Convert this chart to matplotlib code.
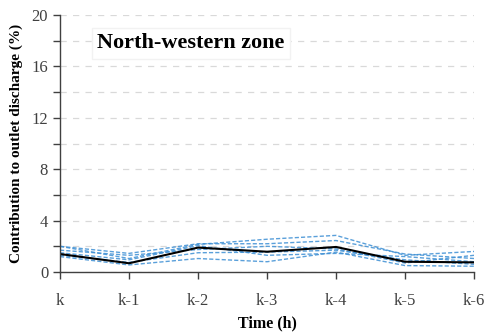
import matplotlib.pyplot as plt
import numpy as np
from matplotlib.ticker import MultipleLocator

# 时间步
steps = ['k', 'k-1', 'k-2', 'k-3', 'k-4', 'k-5', 'k-6']

# 各个子流域的贡献 (蓝色虚线)
sub_a = [2.0, 1.05, 2.15, 2.55, 2.85, 1.3, 1.6]
sub_b = [2.0, 1.45, 2.2, 2.2, 2.45, 1.4, 1.05]
sub_c = [1.2, 0.55, 1.05, 0.8, 1.55, 0.5, 0.45]
sub_d = [1.3, 0.75, 1.5, 1.55, 1.7, 0.95, 0.6]
sub_e = [1.5, 0.95, 2.05, 1.3, 1.45, 1.2, 0.8]
sub_f = [1.7, 1.3, 1.75, 2.0, 1.8, 0.7, 1.3]

# 平均值 (黑色实线)
mean_line = [1.4, 0.68, 1.9, 1.58, 1.95, 0.8, 0.75]


def draw_zone_chart():
    plt.rcParams['font.family'] = ['Liberation Serif', 'DejaVu Serif']

    fig = plt.figure(figsize=(4.93, 3.34), dpi=100)
    ax = fig.add_axes([0.1217, 0.1856, 0.8398, 0.7694])

    x = np.arange(len(steps))
    for s in [sub_a, sub_b, sub_c, sub_d, sub_e, sub_f]:
        ax.plot(x, s, color='#3d8fd4', lw=1.0, ls=(0, (3, 1.5)), alpha=0.85)
    ax.plot(x, mean_line, color='black', lw=1.5)

    ax.set_xlim(0, len(steps) - 1)
    ax.set_ylim(0, 20)
    ax.yaxis.set_major_locator(MultipleLocator(4))
    ax.yaxis.set_minor_locator(MultipleLocator(2))
    ax.grid(axis='y', which='both', color='#d9d9d9', ls=(0, (5, 5)), lw=0.9)
    ax.set_axisbelow(True)

    ax.set_xticks(x)
    ax.set_xticklabels(steps, fontsize=12, color='#404040')
    ax.tick_params(axis='x', length=5, width=1, pad=10, color='#404040')
    ax.tick_params(axis='y', which='both', length=5, width=1, labelsize=12,
                   color='#404040', labelcolor='#404040')

    for side in ['top', 'right']:
        ax.spines[side].set_visible(False)
    for side in ['left', 'bottom']:
        ax.spines[side].set_color('#404040')
        ax.spines[side].set_linewidth(1.0)

    ax.set_xlabel('Time (h)', fontsize=11.5, fontweight='bold', labelpad=5)
    ax.set_ylabel('Contribution to outlet discharge (%)', fontsize=11,
                  fontweight='bold', labelpad=6)

    ax.text(0.09, 0.89, 'North-western zone', transform=ax.transAxes,
            fontsize=16, fontweight='bold', ha='left', va='center',
            bbox=dict(facecolor='white', edgecolor='#f2f2f2', pad=4))

    fig.savefig('out.png', dpi=100)


if __name__ == '__main__':
    draw_zone_chart()
